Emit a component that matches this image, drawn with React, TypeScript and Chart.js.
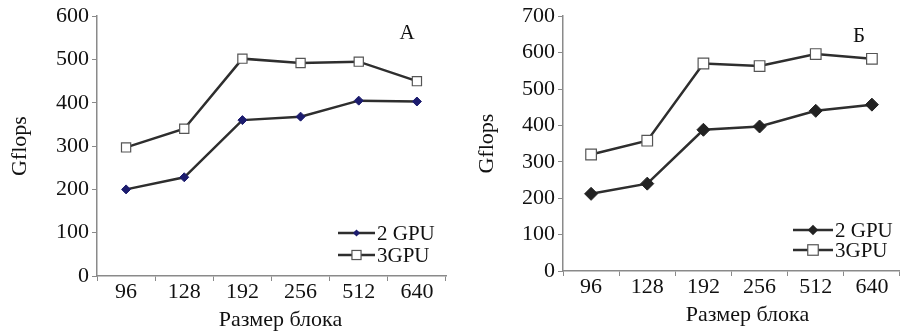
import React, { useEffect, useRef } from 'react';
import { Chart, registerables } from 'chart.js';

Chart.register(...registerables);

const categories = ['96', '128', '192', '256', '512', '640'];
const gpu2A = [200, 228, 360, 368, 405, 403];
const gpu3A = [297, 340, 502, 492, 495, 450];
const gpu2B = [212, 240, 388, 397, 440, 457];
const gpu3B = [320, 358, 570, 563, 596, 583];
const seriesLabels = ['2 GPU', '3GPU'];
const yTitle = 'Gflops';
const xTitle = 'Размер блока';
const panelLetters = ['А', 'Б'];

const FONT = "'Liberation Serif', 'Times New Roman', serif";
const LINE = '#2e2e2e';
const AXIS = '#8a8a8a';

type PanelProps = {
  d2: number[];
  d3: number[];
  yMax: number;
  letter: string;
  marker2Color: string;
  r2: number;
  r3: number;
  yWidth: number;
  xHeight: number;
  padTop: number;
  padRight: number;
  yTitlePad: number;
  xTitleDx: number;
  xTitleY: number;
  legend: { x0: number; x1: number; tx: number; y1: number; y2: number };
  letterPos: { dx: number; dy: number };
};

function Panel(p: PanelProps) {
  const ref = useRef<HTMLCanvasElement | null>(null);
  useEffect(() => {
    if (!ref.current) return;
    const decor = {
      id: 'decor',
      afterDraw(chart: any) {
        const ctx = chart.ctx;
        const ca = chart.chartArea;
        ctx.save();
        // panel letter
        ctx.fillStyle = '#111';
        ctx.font = `21px ${FONT}`;
        ctx.textAlign = 'center';
        ctx.textBaseline = 'middle';
        ctx.fillText(p.letter, ca.right + p.letterPos.dx, ca.top + p.letterPos.dy);
        // x axis title
        ctx.font = `22px ${FONT}`;
        ctx.fillText(xTitle, (ca.left + ca.right) / 2 + p.xTitleDx, p.xTitleY);
        // legend
        const rows = [
          { label: seriesLabels[0], y: ca.bottom + p.legend.y1, kind: 'diamond' },
          { label: seriesLabels[1], y: ca.bottom + p.legend.y2, kind: 'square' },
        ];
        rows.forEach((row) => {
          const x0 = ca.right + p.legend.x0;
          const x1 = ca.right + p.legend.x1;
          ctx.strokeStyle = LINE;
          ctx.lineWidth = 2.5;
          ctx.beginPath();
          ctx.moveTo(x0, row.y);
          ctx.lineTo(x1, row.y);
          ctx.stroke();
          const mx = (x0 + x1) / 2;
          if (row.kind === 'diamond') {
            const r = p.r2 * 0.8;
            ctx.fillStyle = p.marker2Color;
            ctx.beginPath();
            ctx.moveTo(mx - r, row.y);
            ctx.lineTo(mx, row.y - r);
            ctx.lineTo(mx + r, row.y);
            ctx.lineTo(mx, row.y + r);
            ctx.closePath();
            ctx.fill();
          } else {
            const s = p.r3 * 0.7;
            ctx.fillStyle = '#fff';
            ctx.strokeStyle = '#555';
            ctx.lineWidth = 1.2;
            ctx.fillRect(mx - s, row.y - s, 2 * s, 2 * s);
            ctx.strokeRect(mx - s, row.y - s, 2 * s, 2 * s);
          }
          ctx.fillStyle = '#111';
          ctx.font = `21px ${FONT}`;
          ctx.textAlign = 'left';
          ctx.textBaseline = 'middle';
          ctx.fillText(row.label, ca.right + p.legend.tx, row.y + 1);
        });
        ctx.restore();
      },
    };
    const chart = new Chart(ref.current, {
      type: 'line',
      data: {
        labels: categories,
        datasets: [
          {
            label: seriesLabels[0],
            data: p.d2,
            borderColor: LINE,
            borderWidth: 2.5,
            pointStyle: 'rectRot',
            pointRadius: p.r2,
            pointBackgroundColor: p.marker2Color,
            pointBorderColor: p.marker2Color,
            pointBorderWidth: 1,
            tension: 0,
          },
          {
            label: seriesLabels[1],
            data: p.d3,
            borderColor: LINE,
            borderWidth: 2.5,
            pointStyle: 'rect',
            pointRadius: p.r3,
            pointBackgroundColor: '#ffffff',
            pointBorderColor: '#555555',
            pointBorderWidth: 1.2,
            tension: 0,
          },
        ],
      },
      options: {
        animation: false,
        responsive: false,
        maintainAspectRatio: false,
        layout: { autoPadding: false, padding: { top: p.padTop, right: p.padRight, left: 0, bottom: 0 } },
        plugins: {
          legend: { display: false },
          tooltip: { enabled: false },
        },
        scales: {
          x: {
            offset: true,
            grid: {
              offset: true,
              drawOnChartArea: false,
              drawTicks: true,
              tickLength: 5,
              color: AXIS,
              lineWidth: 1,
            },
            border: { color: AXIS, width: 1.5 },
            ticks: { color: '#111', font: { family: FONT, size: 22 }, padding: -2, maxRotation: 0 },
            afterFit: (s: any) => {
              s.height = p.xHeight;
              s.paddingLeft = 0;
              s.paddingRight = 0;
            },
          },
          y: {
            min: 0,
            max: p.yMax,
            ticks: { stepSize: 100, color: '#111', font: { family: FONT, size: 22 }, padding: 3 },
            grid: { drawOnChartArea: false, tickLength: 5, color: AXIS },
            border: { color: AXIS, width: 1.5 },
            title: {
              display: true,
              text: yTitle,
              color: '#111',
              font: { family: FONT, size: 22 },
              padding: { top: p.yTitlePad, bottom: 0 },
            },
            afterFit: (s: any) => {
              s.width = p.yWidth;
            },
          },
        },
      },
      plugins: [decor],
    });
    return () => chart.destroy();
  }, []);
  return <canvas ref={ref} width={450} height={332} style={{ display: 'block', width: 450, height: 332 }} />;
}

export default function App() {
  return (
    <div style={{ position: 'fixed', left: 0, top: 0, width: 900, height: 332, background: '#fff', display: 'flex' }}>
      <Panel
        d2={gpu2A}
        d3={gpu3A}
        yMax={600}
        letter={panelLetters[0]}
        marker2Color="#1c1c6e"
        r2={4.5}
        r3={6.5}
        yWidth={97}
        xHeight={56}
        padTop={16}
        padRight={4}
        yTitlePad={7}
        xTitleDx={9}
        xTitleY={320}
        legend={{ x0: -108, x1: -71, tx: -69, y1: -43, y2: -21 }}
        letterPos={{ dx: -39, dy: 17 }}
      />
      <Panel
        d2={gpu2B}
        d3={gpu3B}
        yMax={700}
        letter={panelLetters[1]}
        marker2Color="#222222"
        r2={6.5}
        r3={7.5}
        yWidth={113}
        xHeight={61}
        padTop={15}
        padRight={0}
        yTitlePad={24}
        xTitleDx={16}
        xTitleY={315}
        legend={{ x0: -107, x1: -67, tx: -65, y1: -41, y2: -21 }}
        letterPos={{ dx: -41, dy: 20 }}
      />
    </div>
  );
}
